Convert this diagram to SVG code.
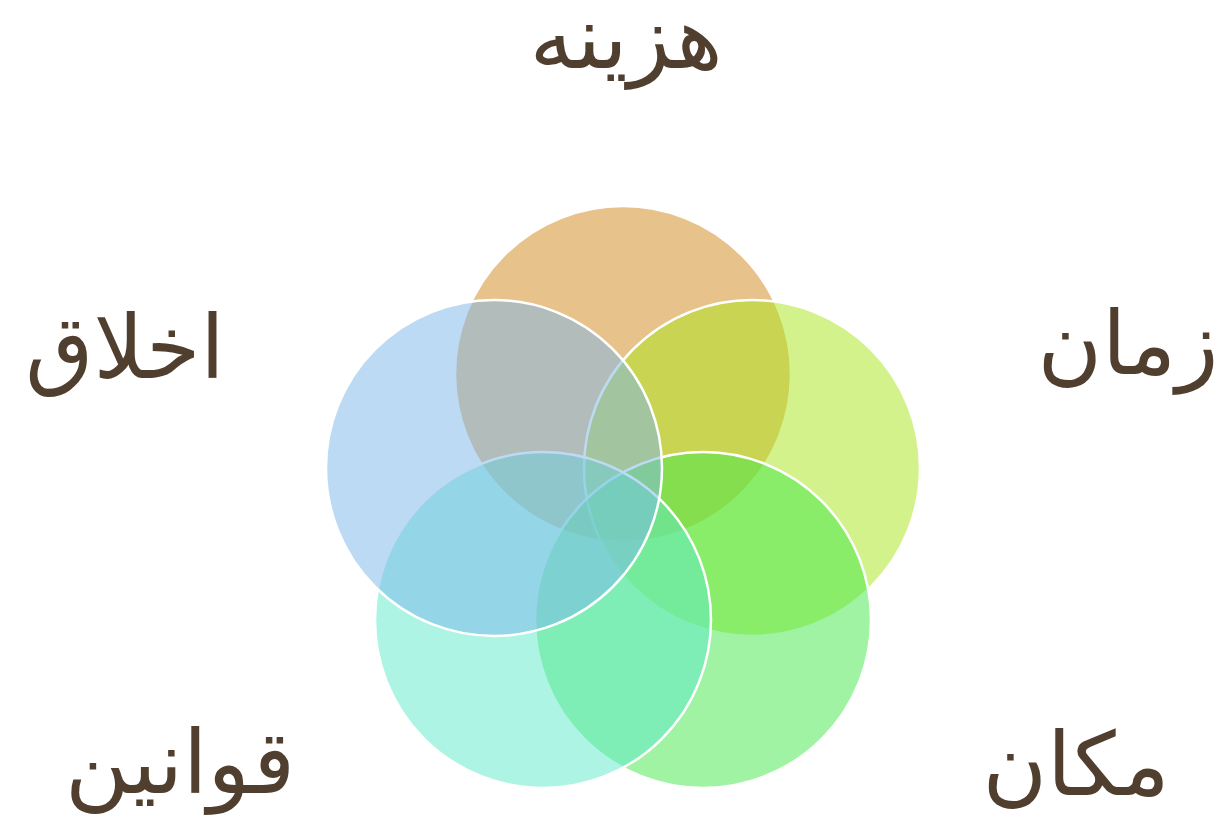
<svg xmlns="http://www.w3.org/2000/svg" width="1222" height="832" viewBox="0 0 1222 832">
<style>
.c{stroke:#ffffff;stroke-width:2.5;fill-opacity:0.5}
.t{font-family:"DejaVu Sans","Noto Sans",sans-serif;font-size:88px;fill:#503F2F;text-anchor:middle}
</style>
<rect width="1222" height="832" fill="#ffffff"/>
<g id="circles">
<g id="node-cost"><circle class="c" cx="623" cy="374" r="168" fill="#D18517"/></g>
<g id="node-time"><circle class="c" cx="752" cy="468" r="168" fill="#A9E519"/></g>
<g id="node-place"><circle class="c" cx="703" cy="620" r="168" fill="#3FE747"/></g>
<g id="node-laws"><circle class="c" cx="543" cy="620" r="168" fill="#5DE9C9"/></g>
<g id="node-ethics"><circle class="c" cx="494" cy="468" r="168" fill="#7BB5EB"/></g>
</g>
<g id="labels">
<g id="label-cost"><text class="t" x="626" y="68" direction="rtl">هزینه</text></g>
<g id="label-time"><text class="t" x="1128" y="374" direction="rtl">زمان</text></g>
<g id="label-place"><text class="t" x="1076" y="795" direction="rtl">مکان</text></g>
<g id="label-laws"><text class="t" x="180" y="793" direction="rtl">قوانین</text></g>
<g id="label-ethics"><text class="t" x="125" y="378" direction="rtl">اخلاق</text></g>
</g>
<g id="connectors"></g>
</svg>
